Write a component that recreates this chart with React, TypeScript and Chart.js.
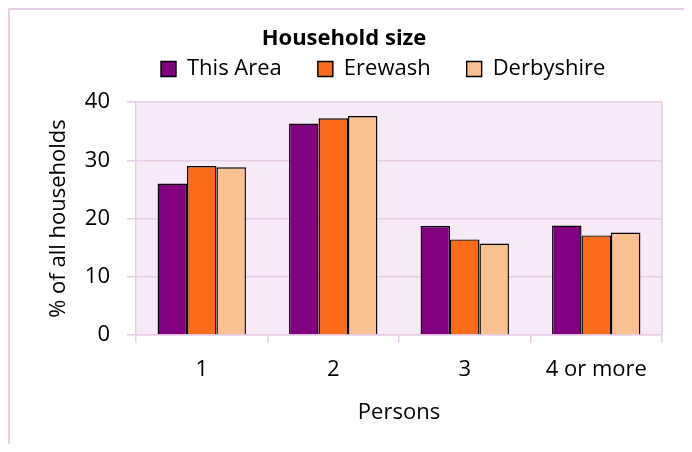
import { useEffect, useRef } from 'react';
import { Chart, registerables } from 'chart.js';

Chart.register(...registerables);

const categories = ['1', '2', '3', '4 or more'];
const seriesNames = ['This Area', 'Erewash', 'Derbyshire'];
const thisArea = [26.0, 36.3, 18.7, 18.8];
const erewash = [29.0, 37.2, 16.4, 17.1];
const derbyshire = [28.8, 37.6, 15.7, 17.6];
const yTicks = [0, 10, 20, 30, 40];

const FONT = '"Open Sans", "Noto Sans", sans-serif';
const GRID = '#e6cde6';
const PLOT_BG = '#f6eaf6';
const COLORS = ['#800080', '#fa6b1a', '#f9c092'];

export default function App() {
  const ref = useRef<HTMLCanvasElement>(null);

  useEffect(() => {
    if (!ref.current) return;
    Chart.defaults.font.family = FONT;
    Chart.defaults.color = '#000';

    const plotBg = {
      id: 'plotBg',
      beforeDraw(chart: any) {
        const { ctx, chartArea: a } = chart;
        ctx.save();
        ctx.fillStyle = PLOT_BG;
        ctx.fillRect(a.left, a.top, a.right - a.left, a.bottom - a.top);
        ctx.strokeStyle = GRID;
        ctx.lineWidth = 1.5;
        ctx.beginPath();
        ctx.moveTo(a.right, a.top);
        ctx.lineTo(a.right, a.bottom);
        ctx.stroke();
        ctx.restore();
      },
    };

    const shiftBoxes = {
      id: 'shiftBoxes',
      afterLayout(chart: any) {
        const lg = chart.legend;
        if (lg) {
          lg.left = 115;
          lg.right = 680;
        }
        const t = chart.titleBlock;
        if (t) {
          t.left += 8;
          t.right += 8;
        }
      },
    };

    const datasets = [thisArea, erewash, derbyshire].map((d, i) => ({
      label: seriesNames[i],
      data: d,
      backgroundColor: COLORS[i],
      borderColor: '#000',
      borderWidth: 1.4,
    }));

    const chart = new Chart(ref.current, {
      type: 'bar',
      data: { labels: categories, datasets },
      options: {
        responsive: false,
        animation: false,
        events: [],
        layout: { padding: { left: 0, right: 28, top: 0, bottom: 0 } },
        datasets: { bar: { categoryPercentage: 0.672, barPercentage: 1 } },
        plugins: {
          title: {
            display: true,
            text: 'Household size',
            color: '#000',
            font: { family: FONT, size: 22, weight: 'bold' },
            padding: { top: 16, bottom: -30.4 },
          },
          subtitle: {
            display: true,
            text: ' ',
            font: { family: FONT, size: 10 },
            padding: 0,
            weight: 500,
          } as any,
          legend: {
            display: true,
            position: 'top',
            align: 'start',
            labels: {
              boxWidth: 15,
              boxHeight: 15,
              padding: 36,
              color: '#000',
              font: { family: FONT, size: 22 },
            },
          },
          tooltip: { enabled: false },
        },
        scales: {
          x: {
            grid: {
              display: true,
              drawOnChartArea: false,
              drawTicks: true,
              tickLength: 8,
              color: GRID,
              lineWidth: 1.5,
              offset: true,
            },
            border: { display: true, color: GRID, width: 1.5 },
            ticks: {
              color: '#000',
              font: { family: FONT, size: 22 },
              padding: 14,
              maxRotation: 0,
              autoSkip: false,
            },
            title: {
              display: true,
              text: 'Persons',
              color: '#000',
              font: { family: FONT, size: 22 },
              padding: { top: 0, bottom: 26 },
            },
            afterFit: (s: any) => {
              s.height = 117;
            },
          },
          y: {
            min: 0,
            max: 40,
            grid: { color: GRID, lineWidth: 1.5, tickLength: 9, drawTicks: true },
            border: { display: true, color: GRID, width: 1.5 },
            ticks: {
              stepSize: 10,
              color: '#000',
              font: { family: FONT, size: 22 },
              padding: 17,
            },
            afterBuildTicks: (s: any) => {
              s.ticks = yTicks.map((v) => ({ value: v }));
            },
            title: {
              display: true,
              text: '% of all households',
              color: '#000',
              font: { family: FONT, size: 22 },
              padding: { top: 36, bottom: 0 },
            },
            afterFit: (s: any) => {
              s.width = 126;
            },
          },
        },
      } as any,
      plugins: [plotBg, shiftBoxes],
    });

    return () => chart.destroy();
  }, []);

  return (
    <div style={{ height: 436 }}>
      <div
        style={{
          width: 680,
          height: 442,
          borderTop: `2px solid ${GRID}`,
          borderLeft: `2px solid ${GRID}`,
          borderRight: `2px solid ${GRID}`,
          background: '#fff',
        }}
      >
        <canvas ref={ref} width={680} height={442} style={{ display: 'block', width: 680, height: 442 }} />
      </div>
    </div>
  );
}
